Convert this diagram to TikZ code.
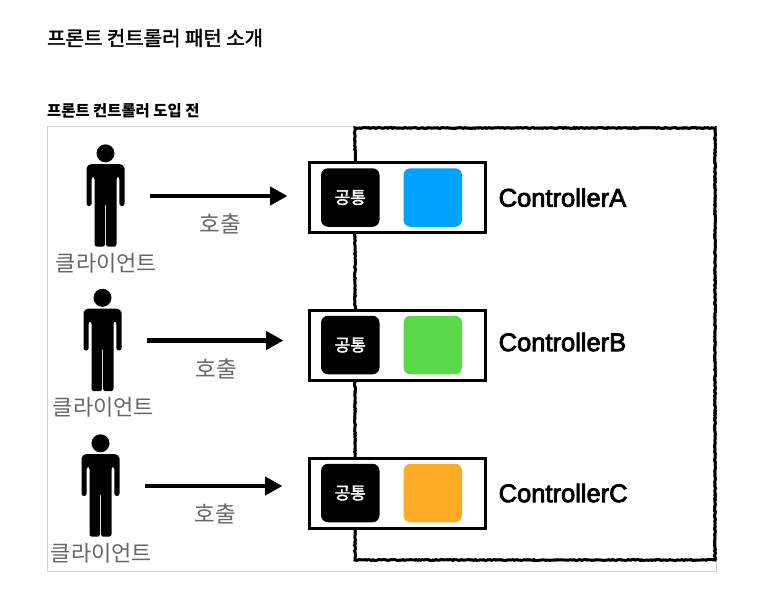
\documentclass[tikz,border=0pt]{standalone}
\usepackage{fontspec}
\setmainfont{Noto Sans CJK KR}
\newfontfamily\latinfont[FakeBold=3]{Liberation Sans}
\newfontfamily\heavyfont[FakeBold=2]{Noto Sans CJK KR}
\usetikzlibrary{positioning,arrows.meta,decorations.pathmorphing}

\tikzset{
    stickman/.pic={
        \fill[black] (0,42.7) circle (9);
        \fill[black, rounded corners=2.5] (-19,-10) -- (-19,27) [rounded corners=5] -- (-19,32) -- (19,32) -- (19,27) [rounded corners=2.5] -- (19,-10) -- (13.8,-10) -- (13.8,19.3)
            -- (11,19.3) -- (11,-50.7) -- (0.5,-50.7) -- (0.5,-7) -- (-0.5,-7) -- (-0.5,-50.7) -- (-11,-50.7)
            -- (-11,19.3) -- (-13.8,19.3) -- (-13.8,-10) -- cycle;
    }
}

\begin{document}
\begin{tikzpicture}[
    x=1pt, y=1pt,
    node distance=10pt and 13pt,
    frame/.style={rectangle, draw=black!17, line width=1pt, inner sep=0pt, outer sep=0pt, minimum width=668.5pt, minimum height=445pt},
    roughframe/.style={rectangle, draw=black, line width=3pt, inner sep=0pt, outer sep=0pt, minimum width=360pt, minimum height=432pt,
        decorate, decoration={random steps, segment length=1.5pt, amplitude=0.5pt}},
    person/.style={rectangle, inner sep=0pt, outer sep=0pt, minimum width=38pt, minimum height=102pt},
    client/.style={text=black!60, font=\fontsize{22}{24}\selectfont, inner sep=0pt},
    callarrow/.style={-{Triangle[length=17.5pt, width=18pt]}, line width=4.5pt, shorten <=25.5pt},
    calltext/.style={text=black!60, font=\fontsize{22.5}{24}\selectfont, inner sep=0pt},
    ctrlbox/.style={rectangle, draw=black, fill=white, line width=3pt, inner sep=0pt, outer sep=0pt, minimum width=176pt, minimum height=70pt},
    common/.style={rectangle, fill=black, text=white, rounded corners=7pt, inner sep=0pt, outer sep=0pt, minimum width=58.5pt, minimum height=58.5pt, font=\heavyfont\fontsize{17}{19}\selectfont},
    unique/.style={rectangle, rounded corners=7pt, inner sep=0pt, outer sep=0pt, minimum width=58.5pt, minimum height=58.5pt},
    ctrlname/.style={font=\latinfont\fontsize{25.5}{27}\selectfont, inner sep=0pt}
]
    \useasboundingbox (0,0) rectangle (758,-590);

    \definecolor{ctrlblue}{HTML}{00A2FF}
    \definecolor{ctrlgreen}{HTML}{5BD94B}
    \definecolor{ctrlorange}{HTML}{FFAB25}

    \node[anchor=west, inner sep=0pt, font=\heavyfont\fontsize{20}{22}\selectfont] (title) at (47,-38) {프론트 컨트롤러 패턴 소개};
    \node[anchor=west, inner sep=0pt, font=\bfseries\fontsize{15.4}{17}\selectfont] (subtitle) at (47,-111) {프론트 컨트롤러 도입 전};

    \node[frame] (outer) at (381.75,-348.5) {};
    \node[roughframe] (server) at (535,-344) {};

    % controllers
    \node[ctrlbox] (boxA) at (397.5,-197.5) {};
    \node[ctrlbox] (boxB) at (397.5,-345) {};
    \node[ctrlbox] (boxC) at (397.5,-493) {};
    \node[common, right=11.5pt of boxA.west] (commonA) {공통};
    \node[common, right=11.5pt of boxB.west] (commonB) {공통};
    \node[common, right=11.5pt of boxC.west] (commonC) {공통};
    \node[unique, fill=ctrlblue, right=24pt of commonA] (uniqueA) {};
    \node[unique, fill=ctrlgreen, right=24pt of commonB] (uniqueB) {};
    \node[unique, fill=ctrlorange, right=24pt of commonC] (uniqueC) {};
    \node[ctrlname, right=of boxA.east] (nameA) {ControllerA};
    \node[ctrlname, right=of boxB.east, yshift=3pt] (nameB) {ControllerB};
    \node[ctrlname, right=of boxC.east] (nameC) {ControllerC};

    % clients
    \node[person] (personA) at (105.5,-196) {};
    \node[person] (personB) at (102.5,-340.5) {};
    \node[person] (personC) at (100.5,-486) {};
    \pic at (personA) {stickman};
    \pic at (personB) {stickman};
    \pic at (personC) {stickman};
    \node[client, below=6pt of personA, xshift=1pt] (clientA) {클라이언트};
    \node[client, below=6pt of personB, xshift=1pt] (clientB) {클라이언트};
    \node[client, below=6pt of personC, xshift=1pt] (clientC) {클라이언트};

    \draw[callarrow, shorten >=22pt] (personA.east) -- (personA.east -| boxA.west) node[calltext, midway, below=16pt, xshift=3.5pt] (callA) {호출};
    \draw[callarrow, shorten >=26pt] (personB.east) -- (personB.east -| boxB.west) node[calltext, midway, below=16pt, xshift=1pt] (callB) {호출};
    \draw[callarrow, shorten >=27pt] (personC.east) -- (personC.east -| boxC.west) node[calltext, midway, below=16pt, xshift=1pt] (callC) {호출};
\end{tikzpicture}
\end{document}
